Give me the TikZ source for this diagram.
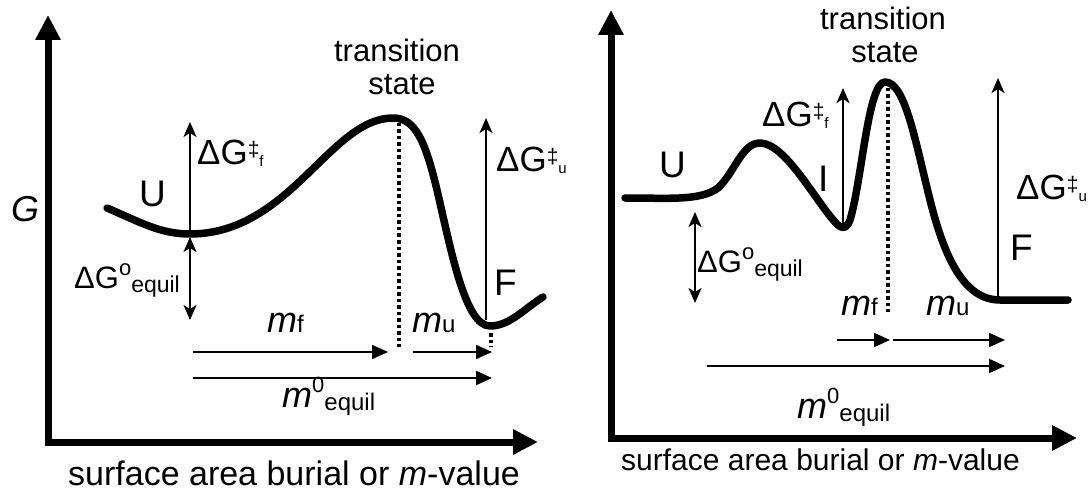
\documentclass[tikz,border=0pt]{standalone}
\usepackage{fontspec}
\setmainfont{Liberation Sans}
\usetikzlibrary{arrows.meta}
\newcommand{\fsz}[1]{\fontsize{#1}{#1}\selectfont}
\newcommand{\dGdd}[1]{{\fsz{35}ΔG}\raisebox{8pt}{\fsz{21}‡}\raisebox{-2pt}{\fsz{15}#1}}
\newcommand{\dGeq}{{\fsz{31}ΔG}\raisebox{13pt}{\fsz{22}o}\raisebox{-4pt}{\fsz{23}equil}}
\newcommand{\msub}[1]{{\fsz{36}\itshape m}{\fsz{24}#1}}
\newcommand{\mzero}{{\fsz{36}\itshape m}\raisebox{15pt}{\fsz{22}0}\raisebox{-3pt}{\fsz{24}equil}}
\begin{document}
\begin{tikzpicture}[x=1pt,y=-1pt,
  lbl/.style={inner sep=0pt, anchor=base west},
  ctr/.style={inner sep=0pt, anchor=base},
  axis/.style={line width=7pt, arrows={Triangle[length=25pt,width=24pt]-Triangle[length=25pt,width=24pt]}},
  curve/.style={line width=7.5pt, line cap=round, line join=round},
  thin/.style={line width=2.2pt, -{Stealth[length=15pt,width=13pt,inset=4pt]}},
  thinboth/.style={line width=2.2pt, {Stealth[length=15pt,width=13pt,inset=4pt]}-{Stealth[length=15pt,width=13pt,inset=4pt]}},
  marr/.style={line width=2pt, -{Triangle[length=16pt,width=14pt]}},
  dots/.style={line width=3.5pt, dash pattern=on 3.5pt off 3pt}]
\useasboundingbox (0,0) rectangle (1091,494);

% ================= LEFT PANEL =================
\coordinate (LyTop) at (48,15);
\coordinate (Lorig) at (48,442);
\coordinate (LxEnd) at (538,442);
\draw[axis] (LyTop) -- (Lorig) -- (LxEnd);

\draw[curve] (107,208) .. controls (140,222) and (160,234) .. (190,234)
  .. controls (290,234) and (330,118) .. (393,118)
  .. controls (415,118) and (425,140) .. (437,190)
  .. controls (451,250) and (465,326) .. (490,326)
  .. controls (510,326) and (525,308) .. (543,297);

\coordinate (LUmin) at (190,234);
\coordinate (LUtop) at (190,122);
\coordinate (LUlow) at (190,237);
\coordinate (LUbot) at (190,320);
\draw[thin] (LUmin) -- (LUtop);
\draw[thinboth] (LUlow) -- (LUbot);

\coordinate (LFmin) at (486,320);
\coordinate (LFtop) at (486,118);
\draw[thin] (LFmin) -- (LFtop);

\coordinate (LTSa) at (399,123);
\coordinate (LTSb) at (399,347);
\draw[dots] (LTSa) -- (LTSb);
\coordinate (LFa) at (491,333);
\coordinate (LFb) at (491,347);
\draw[dots] (LFa) -- (LFb);

\coordinate (Lmfa) at (193,352);
\coordinate (Lmfb) at (388,352);
\coordinate (Lmua) at (413,352);
\coordinate (Lmub) at (492,352);
\coordinate (Lm0a) at (193,378);
\coordinate (Lm0b) at (492,378);
\draw[marr] (Lmfa) -- (Lmfb);
\draw[marr] (Lmua) -- (Lmub);
\draw[marr] (Lm0a) -- (Lm0b);

\node[lbl] (LG) at (11,222) {\fsz{36}\itshape G};
\node[lbl] (LU) at (139,207) {\fsz{37}U};
\node[lbl] (LF) at (494,295) {\fsz{37}F};
\node[lbl] (LdGf) at (197,165) {\dGdd{f}};
\node[lbl] (LdGu) at (496,172) {\dGdd{u}};
\node[lbl] (LdGeq) at (74,288) {\dGeq};
\node[ctr] (LTS1) at (397,62) {\fsz{31}transition};
\node[ctr] (LTS2) at (402,95) {\fsz{31}state};
\node[lbl] (Lmf) at (267,332) {\msub{f}};
\node[lbl] (Lmu) at (412,332) {\msub{u}};
\node[lbl] (Lm0) at (282,407) {\mzero};
\node[lbl] (Lxlab) at (68,485) {\fsz{34}surface area burial or \textit{m}-value};

% ================= RIGHT PANEL =================
\coordinate (RyTop) at (611,10);
\coordinate (Rorig) at (611,438);
\coordinate (RxEnd) at (1077,438);
\draw[axis] (RyTop) -- (Rorig) -- (RxEnd);

\draw[curve] (625,198) .. controls (670,198) and (700,201) .. (718,188)
  .. controls (735,172) and (742,143) .. (760,143)
  .. controls (785,143) and (815,200) .. (835,222)
  .. controls (840,228) and (846,231) .. (850,220)
  .. controls (862,180) and (868,82) .. (885,82)
  .. controls (905,82) and (915,140) .. (930,200)
  .. controls (945,260) and (965,300) .. (1000,300) -- (1068,300);

\coordinate (RImin) at (843,226);
\coordinate (RItop) at (843,88);
\draw[thin] (RImin) -- (RItop);
\coordinate (RFmin) at (998,300);
\coordinate (RFtop) at (998,78);
\draw[thin] (RFmin) -- (RFtop);
\coordinate (REqa) at (695,212);
\coordinate (REqb) at (695,303);
\draw[thinboth] (REqa) -- (REqb);

\coordinate (RTSa) at (888,88);
\coordinate (RTSb) at (888,312);
\draw[dots] (RTSa) -- (RTSb);

\coordinate (Rmfa) at (837,340);
\coordinate (Rmfb) at (890,340);
\coordinate (Rmua) at (893,340);
\coordinate (Rmub) at (1005,340);
\coordinate (Rm0a) at (707,366);
\coordinate (Rm0b) at (1005,366);
\draw[marr] (Rmfa) -- (Rmfb);
\draw[marr] (Rmua) -- (Rmub);
\draw[marr] (Rm0a) -- (Rm0b);

\node[lbl] (RU) at (659,178) {\fsz{37}U};
\node[lbl] (RI) at (818,192) {\fsz{37}I};
\node[lbl] (RF) at (1010,260) {\fsz{37}F};
\node[lbl] (RdGf) at (762,127) {\dGdd{f}};
\node[lbl] (RdGu) at (1016,200) {\dGdd{u}};
\node[lbl] (RdGeq) at (697,272) {\dGeq};
\node[ctr] (RTS1) at (883,30) {\fsz{31}transition};
\node[ctr] (RTS2) at (885,63) {\fsz{31}state};
\node[lbl] (Rmf) at (841,315) {\msub{f}};
\node[lbl] (Rmu) at (926,315) {\msub{u}};
\node[lbl] (Rm0) at (797,418) {\mzero};
\node[lbl] (Rxlab) at (621,470) {\fsz{30}surface area burial or \textit{m}-value};
\end{tikzpicture}
\end{document}
